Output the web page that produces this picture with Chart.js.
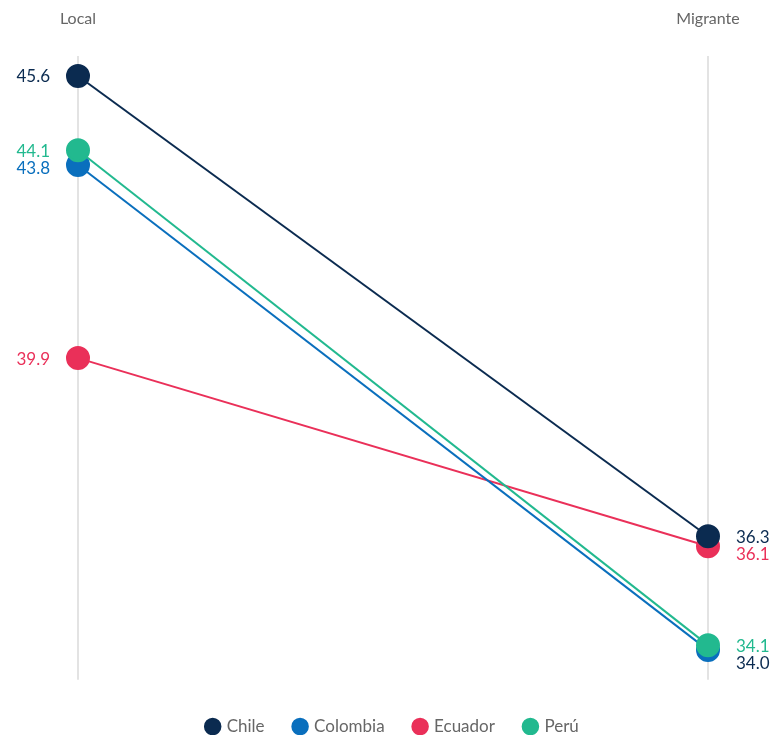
<!DOCTYPE html>
<html>
<head>
<meta charset="utf-8">
<script src="https://cdn.jsdelivr.net/npm/chart.js@4"></script>
<style>
  body { margin: 0; background: #fff; }
  #wrap { width: 781px; height: 735px; position: relative; }
</style>
</head>
<body>
<div id="wrap"><canvas id="slopeChart"></canvas></div>
<script>
// categories (top axis) and series values
const categories = ['Local', 'Migrante'];
const countries = ['Chile', 'Colombia', 'Ecuador', 'Perú'];
const chileValues = [45.6, 36.3];
const colombiaValues = [43.8, 34.0];
const ecuadorValues = [39.9, 36.1];
const peruValues = [44.1, 34.1];

const colors = ['#0b2b50', '#0a6fbd', '#ea3059', '#22b98f'];
// the 34.0 label in the reference is drawn in the dark navy tone
const labelColors = [
    ['#0b2b50', '#0b2b50'],
    ['#0a6fbd', '#0b2b50'],
    ['#ea3059', '#ea3059'],
    ['#22b98f', '#22b98f']
];

const FONT = 'Lato, "Open Sans", sans-serif';

// draws value labels next to the points, pushing overlapping ones apart
const valueLabels = {
    id: 'valueLabels',
    afterDatasetsDraw(chart) {
        const ctx = chart.ctx;
        const minGap = 17;
        [0, 1].forEach(idx => {
            const items = [];
            chart.data.datasets.forEach((ds, di) => {
                const el = chart.getDatasetMeta(di).data[idx];
                items.push({ x: el.x, y: el.y, text: ds.data[idx].toFixed(1), color: labelColors[di][idx] });
            });
            items.sort((a, b) => a.y - b.y);
            for (let i = 1; i < items.length; i++) {
                if (items[i].y - items[i - 1].y < minGap) items[i].y = items[i - 1].y + minGap;
            }
            ctx.save();
            ctx.font = '17px ' + FONT;
            ctx.textBaseline = 'middle';
            items.forEach(it => {
                ctx.fillStyle = it.color;
                if (idx === 0) {
                    ctx.textAlign = 'right';
                    ctx.fillText(it.text, it.x - 28, it.y + 1);
                } else {
                    ctx.textAlign = 'left';
                    ctx.fillText(it.text, it.x + 28, it.y + 1);
                }
            });
            ctx.restore();
        });
    }
};

const seriesValues = [chileValues, colombiaValues, ecuadorValues, peruValues];
const drawOrder = [0, 2, 3, 1]; // Perú above Colombia, Chile above Ecuador

const ctx = document.getElementById('slopeChart').getContext('2d');
new Chart(ctx, {
    type: 'line',
    data: {
        labels: categories,
        datasets: countries.map((name, i) => ({
            label: name,
            data: seriesValues[i],
            borderColor: colors[i],
            backgroundColor: colors[i],
            pointBackgroundColor: colors[i],
            pointBorderColor: colors[i],
            borderWidth: 2,
            pointRadius: 11,
            pointHoverRadius: 11,
            order: drawOrder[i]
        }))
    },
    options: {
        responsive: true,
        maintainAspectRatio: false,
        animation: false,
        layout: { autoPadding: false, padding: { left: 78, right: 73, top: -19, bottom: -10 } },
        scales: {
            x: {
                position: 'top',
                offset: false,
                grid: { color: '#e3e3e3', lineWidth: 2, drawTicks: false },
                border: { display: false },
                ticks: { color: '#666', font: { family: FONT, size: 16 }, padding: 28 }
            },
            y: {
                display: false,
                min: 33.4,
                max: 46.0
            }
        },
        plugins: {
            legend: {
                position: 'bottom',
                // empty title only used as a spacer above the legend row
                title: { display: true, text: ' ', padding: { top: 7, bottom: 0 }, font: { size: 1 } },
                labels: {
                    usePointStyle: true,
                    pointStyle: 'circle',
                    boxWidth: 11,
                    boxHeight: 11,
                    padding: 30,
                    color: '#666',
                    font: { family: FONT, size: 17 },
                    sort: (a, b) => a.datasetIndex - b.datasetIndex
                }
            },
            tooltip: { enabled: false }
        }
    },
    plugins: [valueLabels]
});
</script>
</body>
</html>
